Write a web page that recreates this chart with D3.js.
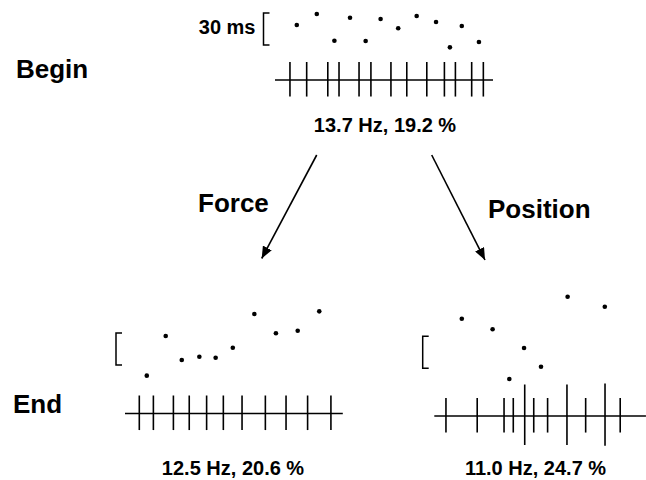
<!DOCTYPE html>
<html>
<head>
<meta charset="utf-8">
<script src="https://cdn.jsdelivr.net/npm/d3@7"></script>
<style>
  html, body { margin: 0; padding: 0; background: #fff; }
  svg { display: block; font-family: "Liberation Sans", Arial, sans-serif; font-weight: bold; }
</style>
</head>
<body>
<div id="chart"></div>
<script>
// spike times (ms), interval dots (time ms, interval value ms), spike amplitude
const beginSpikes = [68, 144, 240, 291, 382, 436, 527, 599, 690, 770, 820, 894, 947];
const beginDotTimes = [99, 190, 270, 341, 412, 480, 560, 644, 732, 795, 849, 927];
const beginDotValues = [68.7, 79.1, 54.0, 75.6, 53.7, 74.4, 65.7, 77.2, 71.6, 47.8, 67.8, 52.8];
const beginAmps = [1, 1, 1, 1, 1, 1, 1, 1, 1, 1, 1, 1, 1];

const forceSpikes = [65, 129, 220, 292, 371, 447, 532, 638, 732, 830, 936];
const forceDotTimes = [99, 185, 258, 338, 412, 490, 588, 686, 785, 883];
const forceDotValues = [40.0, 77.2, 54.7, 57.8, 56.8, 66.2, 97.8, 79.7, 82.1, 100.3];
const forceAmps = [1, 1, 1, 1, 1, 1, 1, 1, 1, 1, 1];

const positionSpikes = [53, 195, 317, 359, 411, 452, 515, 603, 688, 776, 845];
const positionDotTimes = [125, 265, 341, 408, 485, 606, 775];
const positionDotValues = [96.5, 86.6, 40.0, 69.0, 51.5, 117.1, 107.7];
const positionAmps = [1, 1, 1, 1, 1.75, 1, 1, 1.75, 1, 1.8, 1];

const captions = ['13.7 Hz, 19.2 %', '12.5 Hz, 20.6 %', '11.0 Hz, 24.7 %'];
const rowLabels = ['Begin', 'End'];
const arrowLabels = ['Force', 'Position'];
const scaleBar = [50, 80]; // 30 ms bracket

const width = 646, height = 480;
const svg = d3.select('#chart').append('svg')
    .attr('width', width)
    .attr('height', height);

svg.append('defs').append('marker')
    .attr('id', 'head')
    .attr('viewBox', '0 0 12 10')
    .attr('refX', 12).attr('refY', 5)
    .attr('markerWidth', 12).attr('markerHeight', 10)
    .attr('markerUnits', 'userSpaceOnUse')
    .attr('orient', 'auto')
  .append('path')
    .attr('d', 'M0,0 L12,5 L0,10 Z')
    .attr('fill', '#000');

const panels = [
    {spikes: beginSpikes, dotT: beginDotTimes, dotV: beginDotValues, amps: beginAmps,
     x0: 275, tEnd: 991, lineY: 80, brBottom: 45, brX: 263.5, cap: captions[0], capX: 385, capY: 131.5, showLabel: true},
    {spikes: forceSpikes, dotT: forceDotTimes, dotV: forceDotValues, amps: forceAmps,
     x0: 125, tEnd: 990, lineY: 413.5, brBottom: 365, brX: 116, cap: captions[1], capX: 233, capY: 474.5},
    {spikes: positionSpikes, dotT: positionDotTimes, dotV: positionDotValues, amps: positionAmps,
     x0: 434.3, tEnd: 962, lineY: 416, brBottom: 368.3, brX: 422.7, cap: captions[2], capX: 535.5, capY: 475}
];

panels.forEach(p => {
    const x = d3.scaleLinear().domain([0, 1000]).range([p.x0, p.x0 + 220]);
    const y = d3.scaleLinear().domain(scaleBar).range([p.brBottom, p.brBottom - 32]);
    const amp = d3.scaleLinear().domain([0, 1]).range([0, 18]);
    const g = svg.append('g');

    // baseline
    g.append('line')
        .attr('x1', x(0)).attr('x2', x(p.tEnd))
        .attr('y1', p.lineY).attr('y2', p.lineY)
        .attr('stroke', '#000').attr('stroke-width', 1.6);

    // spikes
    g.selectAll('line.spike')
        .data(p.spikes)
        .join('line')
          .attr('class', 'spike')
          .attr('x1', d => x(d)).attr('x2', d => x(d))
          .attr('y1', (d, i) => p.lineY - amp(p.amps[i]))
          .attr('y2', (d, i) => p.lineY + amp(p.amps[i]) * 0.92)
          .attr('stroke', '#000').attr('stroke-width', 1.6);

    // interval dots
    g.selectAll('circle')
        .data(p.dotT)
        .join('circle')
          .attr('cx', d => x(d))
          .attr('cy', (d, i) => y(p.dotV[i]))
          .attr('r', 2.3)
          .attr('fill', '#000');

    // 30 ms bracket
    g.append('path')
        .attr('d', `M${p.brX + 6},${y(scaleBar[1])} H${p.brX} V${y(scaleBar[0])} H${p.brX + 6}`)
        .attr('fill', 'none')
        .attr('stroke', '#000').attr('stroke-width', 1.5);

    if (p.showLabel) {
        g.append('text')
            .attr('x', p.brX - 8).attr('y', 33.5)
            .attr('text-anchor', 'end')
            .style('font-size', '20px')
            .text('30 ms');
    }

    g.append('text')
        .attr('x', p.capX).attr('y', p.capY)
        .attr('text-anchor', 'middle')
        .style('font-size', '20px')
        .text(p.cap);
});

// row labels
svg.append('text').attr('x', 16).attr('y', 77.5).style('font-size', '26px').text(rowLabels[0]);
svg.append('text').attr('x', 13).attr('y', 412.5).style('font-size', '26px').text(rowLabels[1]);

// arrows
const arrows = [
    {x1: 316.7, y1: 155, x2: 261.7, y2: 258.5, label: arrowLabels[0], lx: 198, ly: 212},
    {x1: 431.7, y1: 155, x2: 485, y2: 260, label: arrowLabels[1], lx: 488, ly: 218}
];
arrows.forEach(a => {
    svg.append('line')
        .attr('x1', a.x1).attr('y1', a.y1)
        .attr('x2', a.x2).attr('y2', a.y2)
        .attr('stroke', '#000').attr('stroke-width', 1.6)
        .attr('marker-end', 'url(#head)');
    svg.append('text')
        .attr('x', a.lx).attr('y', a.ly)
        .style('font-size', '26px')
        .text(a.label);
});
</script>
</body>
</html>
